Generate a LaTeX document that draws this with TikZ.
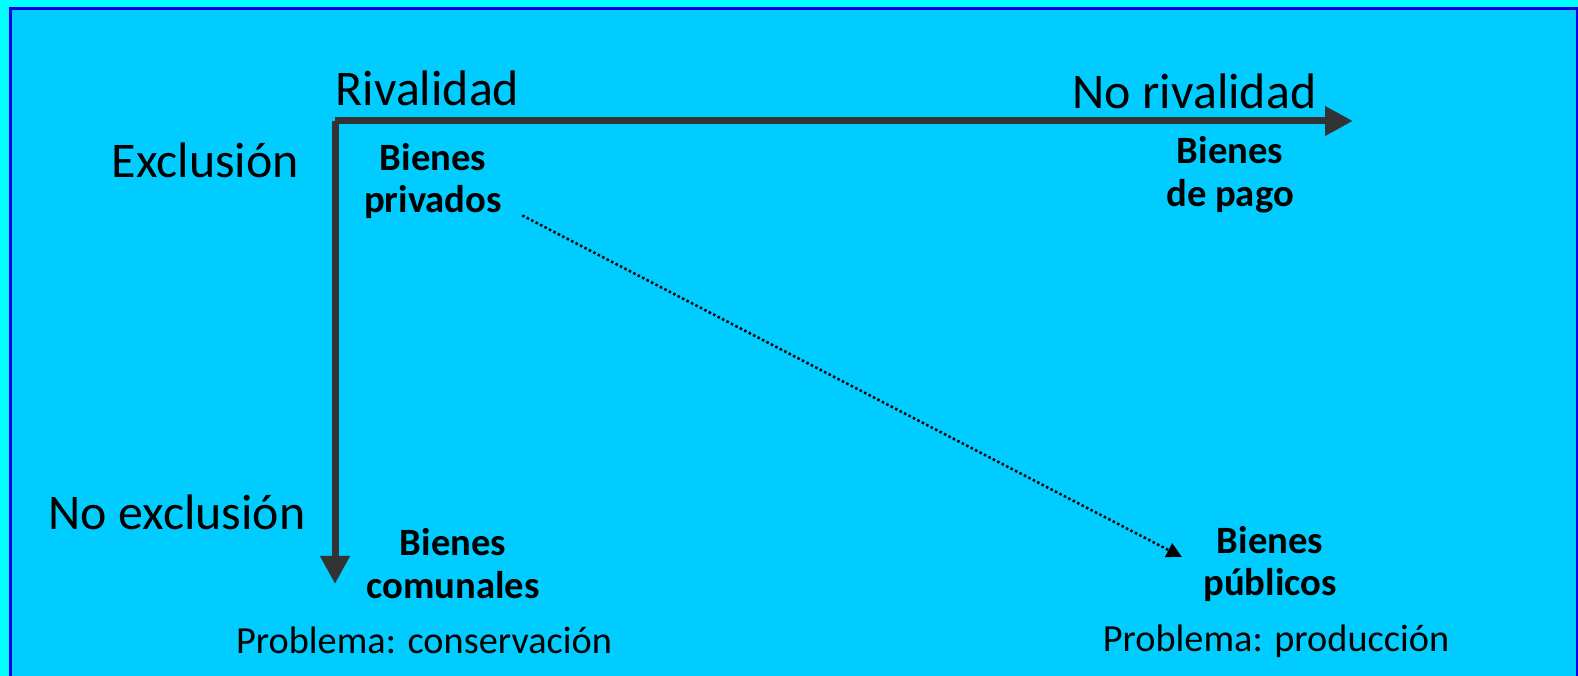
\documentclass[tikz,border=0pt]{standalone}
\usepackage{fontspec}
\setmainfont{Carlito}
\usetikzlibrary{arrows.meta}

\definecolor{fondo}{HTML}{00CCFF}
\definecolor{marco}{HTML}{00FFFF}
\definecolor{borde}{HTML}{0000E6}
\definecolor{eje}{HTML}{333333}

\tikzset{
  titulo/.style={font=\fontsize{14.2}{17}\selectfont, inner sep=0pt},
  bien/.style={font=\fontsize{11}{12.2}\selectfont\bfseries, align=center},
  problema/.style={font=\fontsize{10.9}{13}\selectfont, inner sep=0pt}
}

\begin{document}
\begin{tikzpicture}

    \useasboundingbox (0,0) rectangle (15.78,6.76);
    \fill[marco] (0,0) rectangle (15.78,6.76);
    \filldraw[fill=fondo, draw=borde, line width=0.03cm] (0.105,-0.2) rectangle (15.775,6.675);

    \node[titulo, anchor=base west] (rival) at (3.35,5.70) {Rivalidad};
    \node[titulo, anchor=base west] (norival) at (10.72,5.67) {No rivalidad};
    \node[titulo, anchor=base west] (excl) at (1.11,4.98) {Exclusión};
    \node[titulo, anchor=base west] (noexcl) at (0.48,1.46) {No exclusión};

    \coordinate (origen) at (3.35,5.55);
    \coordinate (finx) at (13.53,5.55);
    \coordinate (finy) at (3.35,0.92);
    \draw[eje, line width=0.07cm, -{Triangle[length=0.28cm,width=0.28cm]}] (origen) -- (finx);
    \draw[eje, line width=0.07cm, -{Triangle[length=0.28cm,width=0.28cm]}] (origen) -- (finy);

    \node[bien] (privados) at (4.33,4.95) {Bienes\\privados};
    \node[bien] (pago) at (12.30,5.01) {Bienes\\de pago};
    \node[bien] (comunales) at (4.53,1.12) {Bienes\\comunales};
    \node[bien] (publicos) at (12.70,1.12) {Bienes\\públicos};

    \node[problema, anchor=base] (conserv) at (4.24,0.22) {Problema: conservación};
    \node[problema, anchor=base] (produc) at (12.76,0.24) {Problema: producción};

    % flecha punteada de privados a publicos
    \draw[line width=0.025cm, dash pattern=on 0.025cm off 0.025cm,
          -{Triangle[length=0.15cm,width=0.15cm]}]
          ([xshift=0.08cm,yshift=0.16cm]privados.south east) -- ([xshift=-0.09cm,yshift=0.07cm]publicos.west);

\end{tikzpicture}
\end{document}
